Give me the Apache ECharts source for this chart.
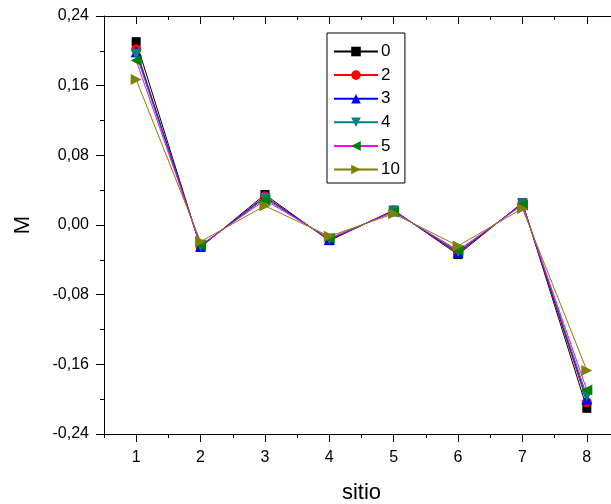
<!DOCTYPE html>
<html>
<head>
<meta charset="utf-8">
<script src="https://cdn.jsdelivr.net/npm/echarts@6/dist/echarts.min.js"></script>
<style>html,body{margin:0;padding:0;background:#fff;}#c{width:611px;height:504px;}</style>
</head>
<body>
<div id="c"></div>
<script>
const sites = [1, 2, 3, 4, 5, 6, 7, 8];
const seriesNames = ['0', '2', '3', '4', '5', '10'];
const m0  = [0.2105, -0.0256, 0.0350, -0.0180, 0.0170, -0.0340, 0.0256, -0.2105];
const m2  = [0.2017, -0.0250, 0.0330, -0.0172, 0.0166, -0.0325, 0.0250, -0.2036];
const m3  = [0.1990, -0.0245, 0.0320, -0.0167, 0.0162, -0.0315, 0.0245, -0.2000];
const m4  = [0.1960, -0.0240, 0.0305, -0.0162, 0.0157, -0.0305, 0.0240, -0.1960];
const m5  = [0.1890, -0.0230, 0.0285, -0.0152, 0.0150, -0.0290, 0.0230, -0.1895];
const m10 = [0.1670, -0.0190, 0.0220, -0.0130, 0.0130, -0.0240, 0.0190, -0.1670];
const xMajorTicks = [1, 2, 3, 4, 5, 6, 7, 8];
const xMinorTicks = [0.5, 1.5, 2.5, 3.5, 4.5, 5.5, 6.5, 7.5, 8.5];
const yMin = -0.24, yMax = 0.24, yStep = 0.08;

const allData = [m0, m2, m3, m4, m5, m10];
const lineColors = ['#000000', '#ff0000', '#0000ff', '#008080', '#ff00ff', '#808000'];
const markColors = ['#000000', '#ff0000', '#0000ff', '#008080', '#008000', '#808000'];
const symbols = ['rect', 'circle', 'triangle', 'triangle', 'triangle', 'triangle'];
const rotations = [0, 0, 0, 180, 90, -90];
const sizes = [9, 10, 11, 11, 11, 11];

const font = 'Liberation Sans, Arial, sans-serif';
const chart = echarts.init(document.getElementById('c'), null, {renderer: 'canvas'});

function fmtY(v) {
  if (Math.abs(v) < 1e-9) v = 0;
  return v.toFixed(2).replace('.', ',');
}

const lineStyleAxis = {color: '#000', width: 1};

const option = {
  animation: false,
  backgroundColor: '#fff',
  textStyle: {fontFamily: font},
  grid: {left: 104, top: 16, width: 515, height: 418, containLabel: false, outerBoundsMode: 'none'},
  legend: {
    orient: 'vertical',
    left: 327, top: 33,
    padding: [10, 5, 5, 6],
    itemWidth: 44, itemHeight: 12, itemGap: 6.6,
    borderColor: '#000', borderWidth: 1,
    textStyle: {fontSize: 17, lineHeight: 14, color: '#000', fontFamily: font, padding: [0, 0, 0, -2]},
    data: seriesNames
  },
  xAxis: [
    {
      type: 'value', min: 0.5, max: 8.5, position: 'bottom',
      name: 'sitio', nameLocation: 'middle', nameGap: 48,
      nameTextStyle: {fontSize: 22, color: '#000', fontFamily: font},
      axisLine: {show: true, onZero: false, lineStyle: lineStyleAxis},
      axisTick: {show: true, length: 8, inside: false, customValues: xMajorTicks, lineStyle: lineStyleAxis},
      axisLabel: {show: true, customValues: xMajorTicks, fontSize: 16, color: '#000', margin: 16, fontFamily: font},
      splitLine: {show: false}
    },
    {
      type: 'value', min: 0.5, max: 8.5, position: 'bottom',
      axisLine: {show: false, onZero: false},
      axisTick: {show: true, length: 4, inside: false, customValues: xMinorTicks, lineStyle: lineStyleAxis},
      axisLabel: {show: false},
      splitLine: {show: false}
    },
    {
      type: 'value', min: 0.5, max: 8.5, position: 'top',
      axisLine: {show: true, onZero: false, lineStyle: lineStyleAxis},
      axisTick: {show: true, length: 8, inside: true, customValues: xMajorTicks, lineStyle: lineStyleAxis},
      axisLabel: {show: false},
      splitLine: {show: false}
    },
    {
      type: 'value', min: 0.5, max: 8.5, position: 'top',
      axisLine: {show: false, onZero: false},
      axisTick: {show: true, length: 4, inside: true, customValues: xMinorTicks, lineStyle: lineStyleAxis},
      axisLabel: {show: false},
      splitLine: {show: false}
    }
  ],
  yAxis: [
    {
      type: 'value', min: yMin, max: yMax, interval: yStep, position: 'left',
      name: 'M', nameLocation: 'middle', nameGap: 70, nameRotate: 90,
      nameTextStyle: {fontSize: 22, color: '#000', fontFamily: font},
      axisLine: {show: true, onZero: false, lineStyle: lineStyleAxis},
      axisTick: {show: true, length: 8, inside: false, lineStyle: lineStyleAxis},
      minorTick: {show: true, splitNumber: 2, length: 4, lineStyle: lineStyleAxis},
      axisLabel: {fontSize: 16, color: '#000', margin: 15, formatter: fmtY, fontFamily: font},
      splitLine: {show: false},
      minorSplitLine: {show: false}
    }
  ],
  series: seriesNames.map((n, i) => ({
    name: n,
    type: 'line',
    xAxisIndex: 0,
    yAxisIndex: 0,
    data: sites.map((s, j) => [s, allData[i][j]]),
    symbol: symbols[i],
    symbolSize: sizes[i],
    symbolRotate: rotations[i],
    showAllSymbol: true,
    lineStyle: {color: lineColors[i], width: 1},
    itemStyle: {color: markColors[i]},
    z: 2 + i
  }))
};
chart.setOption(option);
</script>
</body>
</html>
